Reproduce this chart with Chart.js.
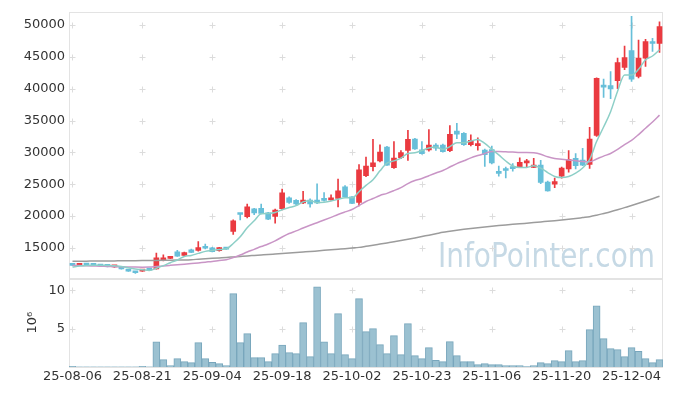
<!DOCTYPE html>
<html>
<head>
<meta charset="utf-8">
<script src="https://cdn.jsdelivr.net/npm/chart.js@4.4.1/dist/chart.umd.min.js"></script>
<style>
  html, body { margin: 0; padding: 0; background: #fff; }
</style>
</head>
<body>
<canvas id="chartSaham" width="673" height="396"></canvas>
<script>
// Tanggal perdagangan (kategori sumbu x)
const tanggal = [
  '25-08-06','25-08-07','25-08-08','25-08-11','25-08-12','25-08-13','25-08-14','25-08-18','25-08-19','25-08-20',
  '25-08-21','25-08-22','25-08-25','25-08-26','25-08-27','25-08-28','25-08-29','25-09-01','25-09-02','25-09-03',
  '25-09-04','25-09-05','25-09-08','25-09-09','25-09-10','25-09-11','25-09-12','25-09-15','25-09-16','25-09-17',
  '25-09-18','25-09-19','25-09-22','25-09-23','25-09-24','25-09-25','25-09-26','25-09-29','25-09-30','25-10-01',
  '25-10-02','25-10-10','25-10-13','25-10-14','25-10-15','25-10-16','25-10-17','25-10-20','25-10-21','25-10-22',
  '25-10-23','25-10-24','25-10-27','25-10-28','25-10-29','25-10-30','25-10-31','25-11-03','25-11-04','25-11-05',
  '25-11-06','25-11-07','25-11-10','25-11-11','25-11-12','25-11-13','25-11-14','25-11-17','25-11-18','25-11-19',
  '25-11-20','25-11-21','25-11-24','25-11-25','25-11-26','25-11-27','25-11-28','25-12-01','25-12-02','25-12-03',
  '25-12-04','25-12-05','25-12-08','25-12-09','25-12-10'
];

// Label tick sumbu y
const tickHarga = [15000, 20000, 25000, 30000, 35000, 40000, 45000, 50000];
const tickVolume = [5, 10];

// Harga: open, high, low, close
const hargaOpen = [
  12450,12250,12400,12300,12250,12150,12020,12050,11550,11150,
  11350,11650,11700,13000,13350,14400,13800,14700,14600,15050,
  15000,14550,14950,17600,20350,19900,21150,21200,20500,19950,
  21150,22850,22450,22050,22500,22500,22550,22550,22750,24600,
  23000,22150,26350,27750,28650,30850,27600,29150,30300,32100,
  30400,30400,31150,31150,30250,33350,33000,31200,31050,30350,
  30450,26900,27250,27750,27750,28350,27650,28000,25350,25000,
  26250,27400,29050,28800,28100,32650,40500,40500,41250,43350,
  46000,41950,44800,47250,47100
];
const hargaHigh = [
  12550,12450,12450,12350,12300,12200,12150,12100,11600,11200,
  11600,11700,14200,13900,13650,14600,14350,14800,16000,15600,
  15100,15100,15050,19400,20400,21900,21200,21900,20600,21100,
  24250,23000,22600,23900,22700,25050,23700,23350,25800,24800,
  23050,28100,29250,32050,31200,30950,31700,30300,33450,32200,
  31700,33600,31400,31300,34200,34550,33100,32750,32300,30500,
  31000,27850,27700,28250,29150,28900,29050,28750,25500,25950,
  27700,30300,29800,30650,33950,41700,41500,42700,44800,46700,
  51350,47650,47750,47900,50500
];
const hargaLow = [
  12200,12200,12250,12200,12050,12000,11950,11650,11300,11000,
  11300,11450,11650,12950,13300,13650,13750,14250,14500,14850,
  14350,14500,14750,17100,19400,19700,20200,20350,19450,18900,
  20950,22000,21800,21950,21400,21950,22350,22500,21450,23000,
  21950,21600,26200,27100,28500,27950,27500,29000,28750,30450,
  29700,30200,30300,30050,30100,32150,31100,31000,30350,27800,
  28200,26250,26000,27050,27600,27700,27600,25100,23900,24450,
  25950,26900,27400,27900,27500,32500,38650,38450,40000,43000,
  41150,41700,43500,45850,45700
];
const hargaClose = [
  12250,12350,12300,12250,12150,12100,12100,11700,11350,11100,
  11550,11500,13450,13450,13420,13700,14250,14300,15050,14950,
  14400,15050,14800,19250,20250,21450,20500,20400,19500,20950,
  23650,22150,21900,22500,21900,22050,22450,22850,23950,23050,
  21980,27250,27850,28350,30050,28000,29100,29950,32050,30550,
  29800,31150,30650,30100,32850,32850,31200,31900,31400,29650,
  28350,26700,27150,27450,28450,28450,28000,25300,23950,25400,
  27550,28850,27900,28000,32100,41650,40250,39950,44100,44900,
  41500,44800,47400,47100,49750
];

// Garis rata-rata bergerak
const ma5 = [
  12000,12150,12250,12280,12260,12230,12180,12060,11880,11670,
  11560,11440,11790,12210,12670,13100,13650,13820,14140,14450,
  14590,14750,14850,15690,16750,18160,19250,20370,20420,20560,
  21000,21330,21630,22230,22420,22100,22160,22350,22640,22870,
  22860,23820,24820,25700,27100,28300,28670,29090,29830,29930,
  30290,30700,30840,30450,30910,31520,31530,31780,32040,31400,
  30500,29600,28650,27860,27620,27640,27900,27530,26830,26220,
  26040,26210,26730,27540,28880,31700,33980,36390,39610,42170,
  42140,43050,44540,45140,46110
];
const ma20 = [
  12250,12220,12180,12150,12120,12080,12050,12020,12000,11980,
  11970,11990,12080,12170,12260,12350,12440,12530,12640,12760,
  12870,13010,13130,13480,13890,14350,14770,15210,15620,16110,
  16710,17250,17670,18120,18550,18960,19370,19800,20250,20650,
  21030,21640,22290,22750,23240,23560,23990,24470,25100,25580,
  25890,26340,26770,27150,27700,28240,28680,29130,29500,29830,
  30150,30130,30090,30050,29970,29990,29930,29700,29300,29040,
  28930,28810,28670,28570,28530,28970,29420,29830,30460,31220,
  31880,32790,33800,34780,35850
];
const ma60 = [
  12900,12910,12920,12930,12940,12950,12960,12970,12980,12990,
  13000,13010,13030,13050,13070,13090,13110,13150,13220,13290,
  13360,13430,13500,13580,13660,13740,13810,13880,13950,14030,
  14110,14190,14270,14350,14430,14520,14610,14700,14790,14880,
  14980,15080,15250,15420,15600,15780,15960,16150,16350,16560,
  16780,17000,17220,17450,17620,17780,17920,18050,18180,18290,
  18400,18500,18600,18700,18780,18880,18980,19080,19180,19280,
  19380,19500,19620,19760,19900,20130,20400,20680,20990,21320,
  21650,22000,22360,22730,23120
];

// Volume (satuan 10^6)
const volume = [
  0.1,0.02,0.02,0.02,0.02,0.02,0.02,0.02,0.02,0.02,
  0.1,0.02,3.3,0.96,0.18,1.1,0.7,0.57,3.18,1.1,
  0.61,0.44,0.18,9.57,3.18,4.35,1.22,1.22,0.7,1.74,
  2.87,1.88,1.74,5.79,1.35,10.48,3.3,1.74,6.96,1.61,
  1.09,8.92,4.61,5.0,2.92,1.74,4.09,1.61,5.66,1.48,
  1.09,2.53,0.87,0.7,3.31,1.48,0.7,0.7,0.31,0.44,
  0.31,0.31,0.18,0.18,0.18,0.05,0.18,0.57,0.44,0.83,
  0.7,2.14,0.7,0.83,4.87,8.0,3.7,2.4,2.27,1.35,
  2.53,2.05,1.09,0.57,0.96
];

const watermark = 'InfoPointer.com';
const warnaNaik = '#ea3a40';
const warnaTurun = '#67bfd9';

const warnaCandle = hargaClose.map((c, i) => c >= hargaOpen[i] ? warnaNaik : warnaTurun);

// Plugin: kotak panel, grid silang kecil, watermark
const latarPanel = {
  id: 'latarPanel',
  beforeDatasetsDraw(chart) {
    const { ctx, chartArea, scales } = chart;
    const sx = scales.x;
    const panels = [scales.y, scales.yVol];

    ctx.save();
    // watermark
    ctx.font = '33px "DejaVu Sans"';
    const w = ctx.measureText(watermark).width;
    ctx.fillStyle = '#c6d9e5';
    ctx.translate(chartArea.right - 225, scales.y.bottom - 11);
    ctx.scale(217 / w, 1);
    ctx.fillText(watermark, 0, 0);
    ctx.restore();

    ctx.save();
    ctx.strokeStyle = '#dcdcdc';
    ctx.lineWidth = 1;
    panels.forEach(sc => {
      sc.ticks.forEach(t => {
        if (t.value === 0) return;
        const py = Math.round(sc.getPixelForValue(t.value)) + 0.5;
        for (let i = 0; i < tanggal.length; i += 10) {
          const px = Math.round(sx.getPixelForValue(i)) + 0.5;
          ctx.beginPath();
          ctx.moveTo(px - 3, py); ctx.lineTo(px + 3, py);
          ctx.moveTo(px, py - 3); ctx.lineTo(px, py + 3);
          ctx.stroke();
        }
      });
    });
    ctx.strokeStyle = '#e3e3e3';
    panels.forEach(sc => {
      ctx.strokeRect(Math.round(chartArea.left) + 0.5, Math.round(sc.top) + 0.5,
        Math.round(chartArea.width) - 1, Math.round(sc.bottom - sc.top));
    });
    ctx.restore();
  }
};

const fontTick = { family: 'DejaVu Sans', size: 13 };

const ctx = document.getElementById('chartSaham').getContext('2d');
const myChart = new Chart(ctx, {
  type: 'bar',
  data: {
    labels: tanggal,
    datasets: [
      { type: 'line', label: 'MA5', data: ma5, yAxisID: 'y', borderColor: '#8dcfc7', borderWidth: 1.5,
        pointRadius: 0, cubicInterpolationMode: 'monotone', order: 0 },
      { type: 'line', label: 'MA20', data: ma20, yAxisID: 'y', borderColor: '#c995c6', borderWidth: 1.5,
        pointRadius: 0, cubicInterpolationMode: 'monotone', order: 0 },
      { type: 'line', label: 'MA60', data: ma60, yAxisID: 'y', borderColor: '#9c9c9c', borderWidth: 1.5,
        pointRadius: 0, cubicInterpolationMode: 'monotone', order: 0 },
      { label: 'Sumbu', data: hargaLow.map((l, i) => [l, hargaHigh[i]]), yAxisID: 'y',
        backgroundColor: warnaCandle, barThickness: 1, grouped: false, order: 2 },
      { label: 'Badan', data: hargaOpen.map((o, i) => [o, hargaClose[i]]), yAxisID: 'y',
        backgroundColor: warnaCandle, barThickness: 5, minBarLength: 2, grouped: false, order: 1 },
      { label: 'Volume', data: volume, yAxisID: 'yVol', backgroundColor: '#9bc1d1', borderColor: '#78a6bc',
        borderWidth: 1, barPercentage: 1, categoryPercentage: 1, grouped: false, order: 3 }
    ]
  },
  options: {
    responsive: false,
    animation: false,
    devicePixelRatio: 1,
    layout: { padding: { top: 10, right: 10, left: 0, bottom: 0 } },
    plugins: { legend: { display: false }, tooltip: { enabled: false } },
    scales: {
      x: {
        offset: true,
        grid: { display: false, drawTicks: false },
        border: { display: false },
        ticks: {
          autoSkip: false, maxRotation: 0, padding: 2, color: '#333', font: fontTick,
          callback: (v, i) => i % 10 === 0 ? tanggal[i] : ''
        },
        afterFit: s => { s.height = 29; }
      },
      yVol: {
        position: 'left', stack: 'panel', stackWeight: 89,
        min: 0, max: 11.56,
        grid: { display: false, drawTicks: false },
        border: { display: false },
        ticks: { padding: 4, color: '#333', font: fontTick, callback: v => String(v) },
        afterBuildTicks: s => { s.ticks = tickVolume.map(v => ({ value: v })); },
        title: { display: true, text: '10⁶', color: '#333', font: fontTick, padding: { top: 25, bottom: 0 } },
        afterFit: s => { s.width = 69; }
      },
      y: {
        position: 'left', stack: 'panel', stackWeight: 268,
        min: 10200, max: 52080,
        grid: { display: false, drawTicks: false },
        border: { display: false },
        ticks: { padding: 4, color: '#333', font: fontTick, callback: v => String(v) },
        afterBuildTicks: s => { s.ticks = tickHarga.map(v => ({ value: v })); },
        afterFit: s => { s.width = 69; }
      }
    }
  },
  plugins: [latarPanel]
});
</script>
</body>
</html>
